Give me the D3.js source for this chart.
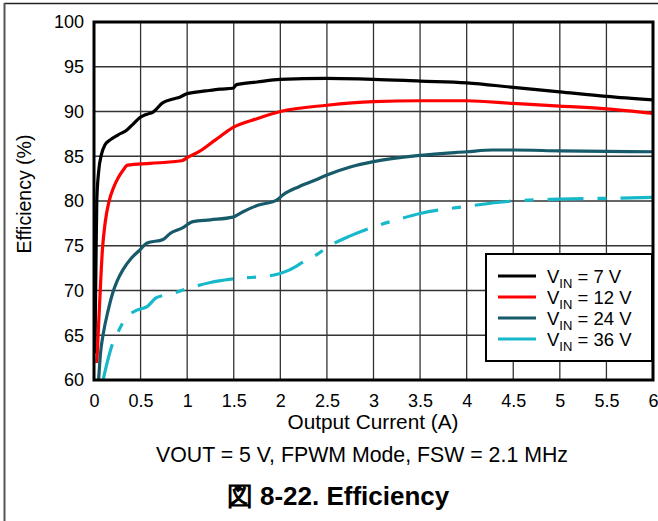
<!DOCTYPE html>
<meta charset="utf-8">
<style>
body { margin: 0; background: #fff; }
text { font-family: "Liberation Sans", Arial, sans-serif; fill: #000; }
</style>
<svg width="658" height="521"></svg>
<script src="https://d3js.org/d3.v7.min.js"></script>
<script>

// output current (A) / efficiency (%)
var vin7 = [[0.01,63],[0.02,72],[0.03,80],[0.05,83.3],[0.08,85.2],[0.12,86.3],[0.17,86.8],[0.26,87.4],
  [0.35,87.9],[0.42,88.6],[0.49,89.3],[0.57,89.7],[0.63,89.9],[0.74,91.0],[0.85,91.4],[0.92,91.6],
  [1.0,92.0],[1.2,92.3],[1.35,92.5],[1.49,92.6],[1.53,93.0],[1.75,93.3],[2.0,93.6],[2.5,93.7],
  [3.0,93.6],[3.5,93.4],[4.0,93.2],[4.5,92.7],[5.0,92.2],[5.5,91.7],[6.0,91.3]];
var vin12 = [[0.03,61.9],[0.06,68.5],[0.09,74.5],[0.12,77.6],[0.16,79.9],[0.21,81.5],[0.26,82.6],
  [0.31,83.4],[0.36,84.0],[0.6,84.2],[0.94,84.5],[1.01,84.9],[1.14,85.6],[1.3,86.8],[1.49,88.2],
  [1.75,89.2],[2.0,90.0],[2.5,90.7],[3.0,91.1],[3.5,91.2],[4.0,91.2],[4.5,90.9],[5.0,90.6],
  [5.5,90.3],[6.0,89.8]];
var vin24 = [[0.05,60.1],[0.07,63],[0.1,65.2],[0.15,67.7],[0.2,69.7],[0.25,71.1],[0.31,72.3],
  [0.4,73.6],[0.49,74.5],[0.57,75.3],[0.74,75.7],[0.82,76.4],[0.95,77.0],[1.06,77.7],[1.25,77.9],
  [1.49,78.2],[1.6,78.8],[1.75,79.5],[1.96,80.1],[2.03,80.7],[2.2,81.6],[2.39,82.4],[2.5,82.9],
  [2.75,83.8],[3.0,84.4],[3.5,85.1],[4.0,85.5],[4.28,85.7],[4.5,85.7],[5.0,85.6],[6.0,85.5]];
var vin36 = [[0.1,60.1],[0.15,62.3],[0.2,64.1],[0.26,65.4],[0.31,66.4],[0.38,67.3],[0.46,67.8],
  [0.57,68.2],[0.67,69.2],[0.82,69.6],[1.0,70.2],[1.25,70.9],[1.5,71.3],[1.92,71.7],[2.1,72.3],
  [2.25,73.2],[2.39,74.0],[2.53,75.0],[2.75,76.1],[3.0,77.1],[3.25,77.9],[3.5,78.6],[4.0,79.4],
  [4.5,80.0],[5.0,80.2],[5.5,80.3],[6.0,80.4]];

var series = [
  {name: "7 V", values: vin7, color: "#000000", dash: null},
  {name: "12 V", values: vin12, color: "#ff0000", dash: null},
  {name: "24 V", values: vin24, color: "#175b6b", dash: null},
  {name: "36 V", values: vin36, color: "#17b8c9", dash: "36,14,9,14"}
];

var xTicks = [0,0.5,1,1.5,2,2.5,3,3.5,4,4.5,5,5.5,6];
var yTicks = [60,65,70,75,80,85,90,95,100];

var svg = d3.select("svg");
var pLeft = 94, pRight = 653, pTop = 22, pBottom = 380;

var x = d3.scaleLinear().domain([0, 6]).range([pLeft, pRight]);
var y = d3.scaleLinear().domain([60, 100]).range([pBottom, pTop]);

// outer figure frame
svg.append("line").attr("x1", 4).attr("x2", 658).attr("y1", 3.5).attr("y2", 3.5)
  .attr("stroke", "#222").attr("stroke-width", 1.5);
svg.append("line").attr("x1", 4.5).attr("x2", 4.5).attr("y1", 3).attr("y2", 521)
  .attr("stroke", "#555").attr("stroke-width", 2);

// grid
svg.append("g").selectAll("line").data(xTicks).enter().append("line")
  .attr("x1", function(d) { return x(d); }).attr("x2", function(d) { return x(d); })
  .attr("y1", pTop).attr("y2", pBottom)
  .attr("stroke", "#333").attr("stroke-width", 1.3);
svg.append("g").selectAll("line").data(yTicks).enter().append("line")
  .attr("y1", function(d) { return y(d); }).attr("y2", function(d) { return y(d); })
  .attr("x1", pLeft).attr("x2", pRight)
  .attr("stroke", "#333").attr("stroke-width", 1.3);

// axes (tick labels only)
var xAxis = svg.append("g").attr("transform", "translate(0," + pBottom + ")")
  .call(d3.axisBottom(x).tickValues(xTicks).tickSize(0).tickPadding(14).tickFormat(d3.format("")));
var yAxis = svg.append("g").attr("transform", "translate(" + (pLeft - 10) + ",0)")
  .call(d3.axisLeft(y).tickValues(yTicks).tickSize(0).tickPadding(0));
[xAxis, yAxis].forEach(function(a) {
  a.select(".domain").remove();
  a.selectAll("text").attr("font-size", "18px").attr("fill", "#000")
    .attr("font-family", "Liberation Sans, Arial, sans-serif");
});

svg.append("clipPath").attr("id", "plot").append("rect")
  .attr("x", pLeft).attr("y", pTop).attr("width", pRight - pLeft).attr("height", pBottom - pTop);

var line = d3.line()
  .x(function(d) { return x(d[0]); })
  .y(function(d) { return y(d[1]); })
  .curve(d3.curveMonotoneX);

svg.append("g").attr("clip-path", "url(#plot)")
  .selectAll("path").data(series).enter().append("path")
  .attr("d", function(d) { return line(d.values); })
  .attr("fill", "none")
  .attr("stroke", function(d) { return d.color; })
  .attr("stroke-width", 3.2)
  .attr("stroke-dasharray", function(d) { return d.dash; });

// plot border
svg.append("rect").attr("x", pLeft).attr("y", pTop)
  .attr("width", pRight - pLeft).attr("height", pBottom - pTop)
  .attr("fill", "none").attr("stroke", "#000").attr("stroke-width", 3);

// legend
var lg = svg.append("g");
lg.append("rect").attr("x", 486).attr("y", 254).attr("width", 166).attr("height", 107)
  .attr("fill", "#fff").attr("stroke", "#000").attr("stroke-width", 2);
var row = lg.selectAll("g.row").data(series).enter().append("g")
  .attr("transform", function(d, i) { return "translate(0," + (276 + i * 21) + ")"; });
row.append("line").attr("x1", 498).attr("x2", 536).attr("y1", 0).attr("y2", 0)
  .attr("stroke", function(d) { return d.color; }).attr("stroke-width", 3.2);
var lt = row.append("text").attr("x", 547).attr("y", 6.5).attr("font-size", "18.5px");
lt.append("tspan").text("V");
lt.append("tspan").attr("font-size", "13px").attr("dy", 5).text("IN");
lt.append("tspan").attr("dy", -5).text(function(d) { return " = " + d.name; });

// titles
svg.append("text").attr("transform", "translate(31,194) rotate(-90)")
  .attr("text-anchor", "middle").attr("font-size", "19.5px").text("Efficiency (%)");
svg.append("text").attr("x", 373).attr("y", 429)
  .attr("text-anchor", "middle").attr("font-size", "20.8px").text("Output Current (A)");
svg.append("text").attr("x", 362).attr("y", 462)
  .attr("text-anchor", "middle").attr("font-size", "21.3px").text("VOUT = 5 V, FPWM Mode, FSW = 2.1 MHz");
svg.append("text").attr("x", 338).attr("y", 505)
  .attr("text-anchor", "middle").attr("font-size", "26px").attr("font-weight", "bold")
  .text("図 8-22. Efficiency");

</script>
